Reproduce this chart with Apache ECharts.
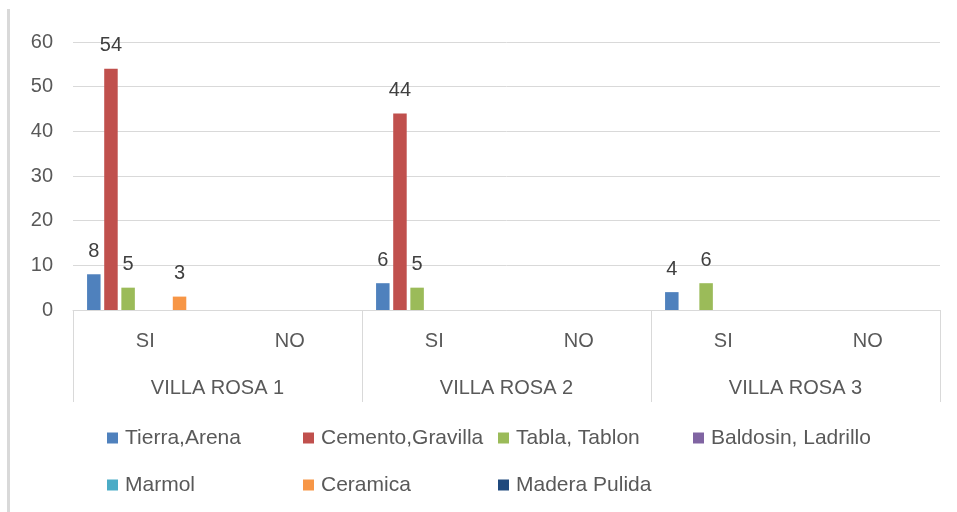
<!DOCTYPE html>
<html>
<head>
<meta charset="utf-8">
<script src="https://cdn.jsdelivr.net/npm/echarts@6/dist/echarts.min.js"></script>
<style>
  html, body { margin: 0; padding: 0; background: #fff; }
  #chart { width: 957px; height: 512px; }
</style>
</head>
<body>
<div id="chart"></div>
<script>
// categorias (nivel 1 y nivel 2)
const categories = ['SI', 'NO', 'SI', 'NO', 'SI', 'NO'];
const groups = ['VILLA ROSA 1', 'VILLA ROSA 2', 'VILLA ROSA 3'];
const yTicks = [0, 10, 20, 30, 40, 50, 60];

const seriesNames = ['Tierra,Arena', 'Cemento,Gravilla', 'Tabla, Tablon', 'Baldosin, Ladrillo', 'Marmol', 'Ceramica', 'Madera Pulida'];
const tierra = [8, 0, 6, 0, 4, 0];
const cemento = [54, 0, 44, 0, 0, 0];
const tabla = [5, 0, 5, 0, 6, 0];
const baldosin = [0, 0, 0, 0, 0, 0];
const marmol = [0, 0, 0, 0, 0, 0];
const ceramica = [3, 0, 0, 0, 0, 0];
const madera = [0, 0, 0, 0, 0, 0];

const seriesData = [tierra, cemento, tabla, baldosin, marmol, ceramica, madera];
const colors = ['#4f81bd', '#c0504d', '#9bbb59', '#8064a2', '#4bacc6', '#f79646', '#1f497d'];

const font = 'Liberation Sans, Arial, sans-serif';
const textColor = '#595959';
const lineColor = '#d9d9d9';

const chart = echarts.init(document.getElementById('chart'));

// leyenda en rejilla: 4 columnas, 2 filas
const legendLeft = [107, 303, 498, 693];
const legendTop = [427, 474];
const legends = seriesNames.map(function (name, i) {
    return {
        data: [name],
        left: legendLeft[i % 4],
        top: legendTop[Math.floor(i / 4)],
        padding: 0,
        itemWidth: 11,
        itemHeight: 11,
        itemGap: 0,
        icon: 'rect',
        selectedMode: false,
        textStyle: {color: textColor, fontSize: 21, fontFamily: font, padding: [0, 0, 0, 2], lineHeight: 22}
    };
});

const option = {
    color: colors,
    animation: false,
    textStyle: {fontFamily: font},
    grid: {left: 73, right: 17, top: 42, bottom: 202, containLabel: false},
    legend: legends,
    graphic: [
        {type: 'rect', left: 7, top: 9, shape: {width: 3, height: 503}, style: {fill: lineColor}, silent: true}
    ],
    xAxis: [
        {
            type: 'category',
            data: categories,
            axisLine: {lineStyle: {color: lineColor, width: 1}},
            axisTick: {show: false},
            axisLabel: {color: textColor, fontSize: 20, fontFamily: font, margin: 21, interval: 0}
        },
        {
            type: 'category',
            data: groups,
            position: 'bottom',
            axisLine: {show: false},
            axisTick: {show: true, length: 92, lineStyle: {color: lineColor, width: 1}},
            axisLabel: {color: textColor, fontSize: 20, fontFamily: font, margin: 68, interval: 0},
            splitLine: {show: false}
        }
    ],
    yAxis: {
        type: 'value',
        min: yTicks[0],
        max: yTicks[yTicks.length - 1],
        interval: 10,
        axisLine: {show: false},
        axisTick: {show: false},
        axisLabel: {color: textColor, fontSize: 20, fontFamily: font, margin: 20},
        splitLine: {lineStyle: {color: lineColor, width: 1}}
    },
    series: seriesNames.map(function (name, i) {
        return {
            name: name,
            type: 'bar',
            xAxisIndex: 0,
            data: seriesData[i],
            barWidth: 13.5,
            barGap: '27%',
            label: {
                show: true,
                position: 'top',
                distance: 13,
                color: '#404040',
                fontSize: 20,
                fontFamily: font,
                formatter: function (p) { return p.value === 0 ? '' : p.value; }
            }
        };
    })
};

chart.setOption(option);
</script>
</body>
</html>
